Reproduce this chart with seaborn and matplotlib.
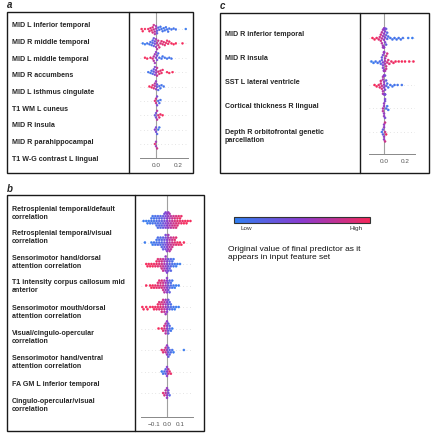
import warnings
import matplotlib
matplotlib.use("Agg")
import matplotlib.pyplot as plt
from matplotlib.colors import LinearSegmentedColormap, Normalize
from matplotlib.cm import ScalarMappable
from matplotlib.patches import Rectangle
from matplotlib.lines import Line2D
import numpy as np
import pandas as pd
import seaborn as sns

warnings.filterwarnings("ignore")

W, H = 432, 440

# ---- panel a : labels, shap bins, point counts per bin, feature value per bin
a_labels = ["MID L inferior temporal", "MID R middle temporal", "MID L middle temporal",
            "MID R accumbens", "MID L isthmus cingulate", "T1 WM L cuneus", "MID R insula",
            "MID R parahippocampal", "T1 W-G contrast L lingual"]
a_shap = [
    [-0.13, -0.12, -0.10, -0.07, -0.06, -0.05, -0.04, -0.03, -0.02, -0.01, 0.00, 0.01, 0.02, 0.03,
     0.04, 0.05, 0.06, 0.07, 0.08, 0.09, 0.10, 0.11, 0.12, 0.14, 0.16, 0.18, 0.27],
    [-0.12, -0.10, -0.08, -0.06, -0.05, -0.04, -0.03, -0.02, -0.01, 0.00, 0.01, 0.02, 0.03, 0.04,
     0.05, 0.06, 0.07, 0.08, 0.09, 0.10, 0.11, 0.12, 0.14, 0.16, 0.18, 0.24],
    [-0.10, -0.08, -0.05, -0.03, -0.02, -0.01, 0.00, 0.01, 0.02, 0.03, 0.05, 0.06, 0.08, 0.10, 0.12, 0.14],
    [-0.07, -0.05, -0.04, -0.03, -0.02, -0.01, 0.00, 0.01, 0.02, 0.03, 0.04, 0.05, 0.06, 0.10, 0.12, 0.15],
    [-0.06, -0.04, -0.03, -0.02, -0.01, 0.00, 0.01, 0.02, 0.03, 0.04, 0.05, 0.07],
    [-0.01, 0.00, 0.01, 0.02, 0.03, 0.04],
    [-0.01, 0.00, 0.01, 0.02, 0.03, 0.04, 0.06],
    [-0.01, 0.00, 0.01, 0.02, 0.03],
    [-0.01, 0.00, 0.01],
]
a_count = [
    [1, 1, 1, 1, 1, 1, 1, 2, 2, 2, 2, 2, 1, 1, 1, 1, 1, 1, 1, 1, 1, 1, 1, 1, 1, 1, 1],
    [1, 1, 1, 1, 1, 1, 2, 2, 2, 2, 2, 2, 1, 1, 1, 1, 1, 1, 1, 1, 1, 1, 1, 1, 1, 1],
    [1, 1, 1, 1, 2, 2, 2, 2, 1, 1, 1, 1, 1, 1, 1, 1],
    [1, 1, 1, 1, 2, 2, 2, 2, 1, 1, 1, 1, 1, 1, 1, 1],
    [1, 1, 1, 1, 2, 2, 2, 1, 1, 1, 1, 1],
    [1, 2, 2, 1, 1, 1],
    [1, 2, 2, 1, 1, 1, 1],
    [1, 2, 1, 1, 1],
    [1, 2, 1],
]
a_value = [
    [1, 1, 1, .95, .95, .9, .9, .85, .8, .7, .6, .3, .2, .15, .1, .1, .1, .1, .1, .1, .1, .1, .1, .1, .1, .1, .05],
    [.05, .05, .1, .1, .15, .15, .2, .3, .4, .6, .7, .8, .85, .85, .9, .9, .9, .9, .95, .95, .95, .95, 1, 1, 1, 1],
    [1, 1, .9, .85, .7, .6, .5, .35, .2, .15, .1, .1, .1, .1, .1, .1],
    [.1, .1, .15, .2, .3, .45, .6, .75, .85, .9, .9, .95, .95, 1, 1, 1],
    [1, .95, .9, .85, .7, .55, .35, .2, .15, .1, .1, .1],
    [.9, .8, .4, .2, .15, .1],
    [.3, .4, .7, .85, .9, .95, 1],
    [.5, .4, .2, .1, .1],
    [.9, .6, .8],
]

# ---- panel b
b_labels = ["Retrosplenial temporal/default\ncorrelation", "Retrosplenial temporal/visual\ncorrelation",
            "Sensorimotor hand/dorsal\nattention correlation", "T1 intensity corpus callosum mid\nanterior",
            "Sensorimotor mouth/dorsal\nattention correlation", "Visual/cingulo-opercular\ncorrelation",
            "Sensorimotor hand/ventral\nattention correlation", "FA GM L inferior temporal",
            "Cingulo-opercular/visual\ncorrelation"]
b_shap = [
    [-0.18, -0.16, -0.15, -0.14, -0.13, -0.12, -0.11, -0.10, -0.09, -0.08, -0.07, -0.06, -0.05, -0.04,
     -0.03, -0.02, -0.01, 0.00, 0.01, 0.02, 0.03, 0.04, 0.05, 0.06, 0.07, 0.08, 0.09, 0.10, 0.11, 0.12,
     0.13, 0.14, 0.15, 0.16, 0.18],
    [-0.17, -0.12, -0.11, -0.10, -0.09, -0.08, -0.07, -0.06, -0.05, -0.04, -0.03, -0.02, -0.01, 0.00,
     0.01, 0.02, 0.03, 0.04, 0.05, 0.06, 0.07, 0.08, 0.09, 0.10, 0.11, 0.13],
    [-0.16, -0.15, -0.14, -0.13, -0.12, -0.11, -0.10, -0.09, -0.08, -0.07, -0.06, -0.05, -0.04, -0.03,
     -0.02, -0.01, 0.00, 0.01, 0.02, 0.03, 0.04, 0.05, 0.06, 0.07, 0.08, 0.10],
    [-0.16, -0.13, -0.12, -0.11, -0.10, -0.09, -0.08, -0.07, -0.06, -0.05, -0.04, -0.03, -0.02, -0.01,
     0.00, 0.01, 0.02, 0.03, 0.04, 0.05, 0.06, 0.07, 0.09],
    [-0.19, -0.18, -0.16, -0.15, -0.13, -0.11, -0.10, -0.09, -0.08, -0.07, -0.06, -0.05, -0.04, -0.03,
     -0.02, -0.01, 0.00, 0.01, 0.02, 0.03, 0.04, 0.05, 0.06, 0.07, 0.09],
    [-0.065, -0.04, -0.03, -0.02, -0.01, 0.00, 0.01, 0.02, 0.03, 0.04],
    [-0.04, -0.03, -0.02, -0.01, 0.00, 0.01, 0.02, 0.03, 0.04, 0.05, 0.13],
    [-0.04, -0.03, -0.02, -0.01, 0.00, 0.01, 0.02, 0.03],
    [-0.03, -0.02, -0.01, 0.00, 0.01, 0.02],
]
b_count = [
    [1, 1, 1, 1, 1, 2, 2, 2, 2, 3, 3, 3, 3, 3, 3, 4, 4, 4, 4, 4, 3, 3, 3, 3, 3, 3, 2, 2, 2, 1, 1, 1, 1, 1, 1],
    [1, 1, 1, 1, 1, 2, 2, 2, 2, 3, 3, 3, 4, 4, 4, 4, 3, 3, 2, 2, 2, 1, 1, 1, 1, 1],
    [1, 1, 1, 1, 1, 1, 1, 1, 2, 2, 2, 2, 3, 3, 3, 4, 4, 3, 3, 3, 2, 2, 1, 1, 1, 1],
    [1, 1, 1, 1, 1, 1, 1, 2, 2, 2, 2, 3, 3, 3, 4, 3, 3, 2, 2, 1, 1, 1, 1],
    [1, 1, 1, 1, 1, 1, 1, 1, 1, 2, 2, 2, 3, 3, 3, 4, 3, 3, 2, 2, 1, 1, 1, 1, 1],
    [1, 1, 1, 2, 3, 3, 3, 2, 1, 1],
    [1, 1, 1, 2, 3, 3, 2, 1, 1, 1, 1],
    [1, 1, 1, 2, 3, 2, 1, 1],
    [1, 1, 2, 3, 2, 1],
]
b_value = [
    [.05, .05, .05, .05, .1, .1, .1, .1, .15, .15, .15, .2, .2, .25, .3, .35, .45, .5, .55, .65, .7, .75,
     .8, .85, .85, .9, .9, .95, .95, .95, 1, 1, 1, 1, 1],
    [.05, .05, .05, .1, .1, .1, .15, .15, .15, .2, .25, .3, .4, .5, .6, .7, .75, .8, .85, .9, .9, .95, .95, 1, 1, 1],
    [1, 1, 1, 1, 1, 1, .95, .95, .95, .9, .9, .85, .8, .75, .65, .55, .45, .35, .25, .2, .15, .1, .1, .05, .05, .05],
    [1, 1, 1, 1, .95, .95, .95, .9, .9, .85, .85, .8, .7, .6, .5, .35, .25, .15, .1, .1, .05, .05, .05],
    [1, 1, 1, 1, 1, 1, 1, .95, .95, .95, .9, .9, .85, .8, .75, .6, .5, .35, .25, .15, .1, .1, .05, .05, .05],
    [1, .95, .9, .85, .7, .5, .3, .2, .1, .05],
    [.95, .9, .85, .75, .55, .3, .2, .15, .1, .05, .05],
    [.05, .1, .15, .25, .5, .75, .9, .95],
    [.9, .85, .7, .55, .4, .2],
]

# ---- panel c
c_labels = ["MID R inferior temporal", "MID R insula", "SST L lateral ventricle",
            "Cortical thickness R lingual", "Depth R orbitofrontal genetic\nparcellation"]
c_shap = [
    [-0.11, -0.09, -0.07, -0.05, -0.04, -0.03, -0.02, -0.01, 0.00, 0.01, 0.02, 0.03, 0.04, 0.06, 0.08,
     0.10, 0.12, 0.14, 0.16, 0.18, 0.23, 0.27],
    [-0.12, -0.10, -0.08, -0.06, -0.04, -0.03, -0.02, -0.01, 0.00, 0.01, 0.02, 0.03, 0.04, 0.05, 0.07,
     0.09, 0.11, 0.14, 0.17, 0.20, 0.24, 0.28],
    [-0.09, -0.07, -0.05, -0.04, -0.03, -0.02, -0.01, 0.00, 0.01, 0.02, 0.03, 0.04, 0.06, 0.08, 0.10, 0.13, 0.17],
    [-0.01, 0.00, 0.01, 0.02, 0.03, 0.04],
    [-0.02, -0.01, 0.00, 0.01, 0.02],
]
c_count = [
    [1, 1, 1, 1, 1, 2, 3, 4, 6, 4, 3, 2, 1, 1, 1, 1, 1, 1, 1, 1, 1, 1],
    [1, 1, 1, 1, 1, 1, 2, 4, 6, 4, 3, 2, 1, 1, 1, 1, 1, 1, 1, 1, 1, 1],
    [1, 1, 1, 1, 2, 2, 4, 6, 4, 2, 1, 1, 1, 1, 1, 1, 1],
    [2, 4, 3, 1, 1, 1],
    [1, 2, 4, 3, 1],
]
c_value = [
    [1, 1, .95, .9, .85, .8, .7, .6, .55, .45, .3, .2, .15, .1, .1, .1, .1, .1, .1, .1, .05, .05],
    [.05, .05, .1, .1, .15, .2, .3, .45, .55, .65, .8, .85, .9, .9, .95, .95, 1, 1, 1, 1, 1, 1],
    [1, 1, .95, .9, .85, .8, .65, .55, .4, .25, .15, .1, .1, .1, .1, .1, .1],
    [.7, .55, .4, .2, .1, .1],
    [.1, .3, .55, .8, .95],
]

shap_cmap = LinearSegmentedColormap.from_list("shap", ["#2f80f2", "#8b3bcf", "#f5285a"])


def fx(x):
    return x / W


def fy(y):
    return 1 - y / H


def build(labels, shap, count, value):
    rows = []
    for lab, xs, ns, cs in zip(labels, shap, count, value, strict=True):
        for x, n, c in zip(xs, ns, cs, strict=True):
            rows += [(lab, x, c)] * n
    return pd.DataFrame(rows, columns=["feature", "shap", "value"])


def box(fig, x0, y0, x1, y1, xdiv):
    fig.add_artist(Rectangle((fx(x0), fy(y1)), (x1 - x0) / W, (y1 - y0) / H,
                             transform=fig.transFigure, fill=False, lw=1.0, ec="#1a1a1a"))
    fig.add_artist(Line2D([fx(xdiv)] * 2, [fy(y0), fy(y1)], transform=fig.transFigure,
                          lw=1.0, color="#1a1a1a"))


def swarm(fig, df, labels, x0, x1, ytop, yaxis, yfirst, ylast, xlim, ticks, ticklabels, dot=1.5):
    ax = fig.add_axes([fx(x0), fy(yaxis), (x1 - x0) / W, (yaxis - ytop) / H])
    n = len(labels)
    sns.swarmplot(data=df, x="shap", y="feature", order=labels, hue="value",
                  palette=shap_cmap, hue_norm=(0, 1), size=dot, linewidth=0.3,
                  edgecolor="face", legend=False, ax=ax, zorder=3)
    step = (ylast - yfirst) / (n - 1)
    ax.set_ylim(n - 1 + (yaxis - ylast) / step, -(yfirst - ytop) / step)
    ax.set_xlim(xlim)
    for i in range(n):
        ax.axhline(i, color="#cccccc", lw=0.5, dashes=(1, 4), zorder=0)
    ax.axvline(0, color="#a0a0a0", lw=0.8, zorder=1)
    ax.set_yticks([])
    ax.set_xlabel("")
    ax.set_ylabel("")
    ax.set_xticks(ticks)
    ax.set_xticklabels(ticklabels)
    ax.tick_params(axis="x", labelsize=4.6, colors="#555555", length=2, width=0.5, pad=1.5)
    for s in ["top", "left", "right"]:
        ax.spines[s].set_visible(False)
    ax.spines["bottom"].set_color("#888888")
    ax.spines["bottom"].set_linewidth(0.7)
    ax.patch.set_alpha(0)
    return ax


sns.set_style("white")
plt.rcParams["font.family"] = ["Liberation Sans", "DejaVu Sans"]

fig = plt.figure(figsize=(W / 100, H / 100), dpi=100)

# panel a
box(fig, 7, 12, 193, 173, 129)
swarm(fig, build(a_labels, a_shap, a_count, a_value), a_labels,
      140, 188, 12, 158, 29, 144, (-0.145, 0.29), [0.0, 0.2], ["0.0", "0.2"], dot=1.4)
for i, lab in enumerate(a_labels):
    fig.text(fx(12), fy(25.7 + i * 16.7), lab, fontsize=5.1, weight="bold", va="center", ha="left")
fig.text(fx(7), fy(5.5), "a", fontsize=7, style="italic", weight="bold", va="center")

# panel c
box(fig, 220, 13, 429, 173, 360)
swarm(fig, build(c_labels, c_shap, c_count, c_value), c_labels,
      369, 415, 13, 154, 38, 132, (-0.143, 0.295), [0.0, 0.2], ["0.0", "0.2"])
c_label_y = [34, 59, 83, 107, 136]
for lab, y in zip(c_labels, c_label_y):
    fig.text(fx(225), fy(y), lab, fontsize=5.1, weight="bold", va="center", ha="left",
             linespacing=1.2)
fig.text(fx(220), fy(6), "c", fontsize=7, style="italic", weight="bold", va="center")

# panel b
box(fig, 7, 195, 204, 431, 135)
swarm(fig, build(b_labels, b_shap, b_count, b_value), b_labels,
      141, 193, 195, 417, 221, 393, (-0.2, 0.2), [-0.1, 0.0, 0.1], ["\u22120.1", "0.0", "0.1"])
b_label_y = [213, 237, 262.5, 287, 312, 337.5, 362.5, 384, 405]
for lab, y in zip(b_labels, b_label_y):
    fig.text(fx(12), fy(y), lab, fontsize=5.1, weight="bold", va="center", ha="left",
             linespacing=1.2)
fig.text(fx(7), fy(189), "b", fontsize=7, style="italic", weight="bold", va="center")

# colour legend
cax = fig.add_axes([fx(234), fy(223), 136 / W, 6 / H])
cb = fig.colorbar(ScalarMappable(norm=Normalize(0, 1), cmap=shap_cmap), cax=cax,
                  orientation="horizontal")
cb.set_ticks([0.09, 0.9])
cb.set_ticklabels(["Low", "High"])
cb.ax.tick_params(labelsize=4.6, length=0, pad=2, colors="#333333")
cb.outline.set_linewidth(0.8)
cb.outline.set_edgecolor("#333333")
fig.text(fx(228), fy(253.5), "Original value of final predictor as it\nappears in input feature set",
         fontsize=6, va="center", ha="left", linespacing=1.3, color="#111111")

fig.savefig("out.png", dpi=100)
